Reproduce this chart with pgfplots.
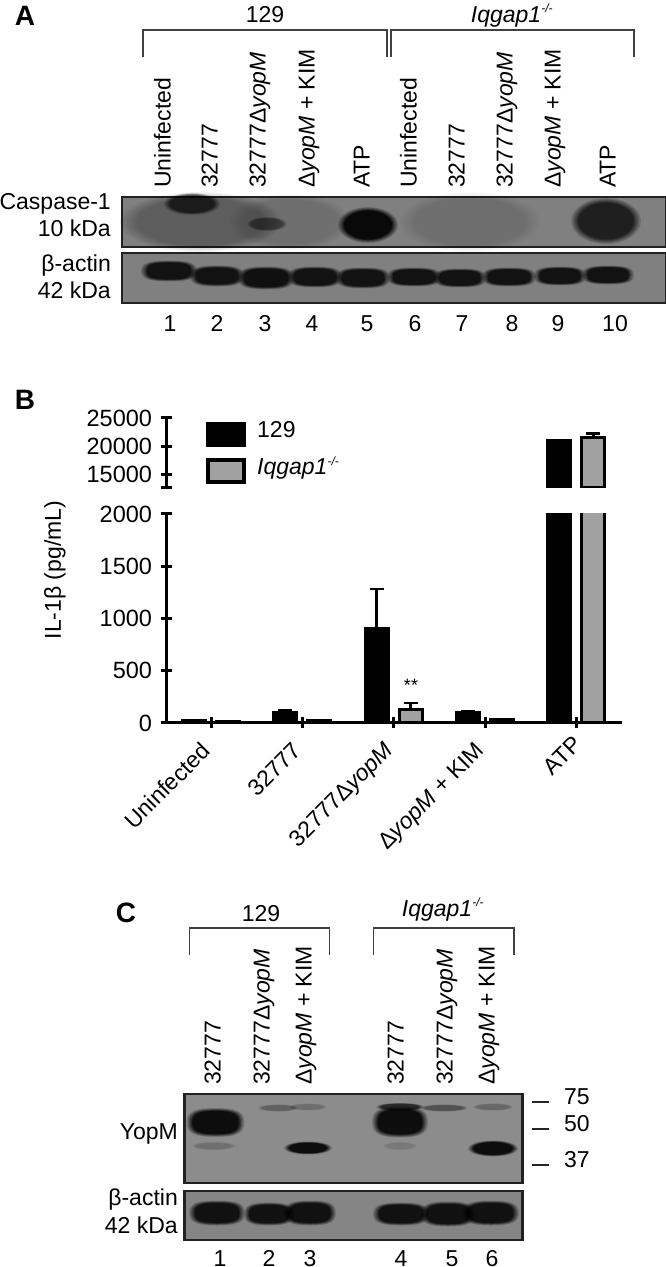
\documentclass[border=0pt]{standalone}
\usepackage{fontspec}
\setmainfont{Liberation Sans}
\usepackage{pgfplots}
\pgfplotsset{compat=1.18}

\newcommand{\fz}{\fontsize{23}{25}\selectfont}
\newcommand{\iq}{\textit{Iqgap1}\textsuperscript{\fontsize{12}{12}\selectfont\textit{-/-}}}
\newcommand{\dy}{Δ\textit{yopM}}

\definecolor{framec}{gray}{0.13}
\definecolor{grayfill}{gray}{0.63}

\pgfdeclareplotmark{band}{\pgfpathcircle{\pgfpointorigin}{1pt}\pgfusepathqfill}
% squarer band, for the actin lanes and the large YopM bands
\pgfdeclareplotmark{bandr}{%
	\pgfpathmoveto{\pgfpoint{1pt}{0pt}}%
	\pgfpathcurveto{\pgfpoint{1pt}{0.75pt}}{\pgfpoint{0.75pt}{1pt}}{\pgfpoint{0pt}{1pt}}%
	\pgfpathcurveto{\pgfpoint{-0.75pt}{1pt}}{\pgfpoint{-1pt}{0.75pt}}{\pgfpoint{-1pt}{0pt}}%
	\pgfpathcurveto{\pgfpoint{-1pt}{-0.75pt}}{\pgfpoint{-0.75pt}{-1pt}}{\pgfpoint{0pt}{-1pt}}%
	\pgfpathcurveto{\pgfpoint{0.75pt}{-1pt}}{\pgfpoint{1pt}{-0.75pt}}{\pgfpoint{1pt}{0pt}}%
	\pgfpathclose\pgfusepathqfill}
\def\bandmark{band}

% one ring of a soft edged band: x y hw hh total-opacity k-1 k scale
\newcommand{\bandstep}[8]{%
	\pgfmathsetmacro\cA{#5*#6/6}\pgfmathsetmacro\cB{#5*#7/6}%
	\pgfmathsetmacro\oo{1-(1-\cB)/(1-\cA)}%
	\pgfmathsetmacro\xs{#3*#8}\pgfmathsetmacro\ys{#4*#8}%
	\edef\tmp{\noexpand\addplot[only marks, mark=\bandmark, mark options={xscale=\xs, yscale=\ys, fill=black, fill opacity=\oo}] coordinates {(#1,#2)};}\tmp}
% x y halfwidth halfheight opacity
\newcommand{\band}[5]{%
	\bandstep{#1}{#2}{#3}{#4}{#5}{0}{1}{1.00}%
	\bandstep{#1}{#2}{#3}{#4}{#5}{1}{2}{0.96}%
	\bandstep{#1}{#2}{#3}{#4}{#5}{2}{3}{0.92}%
	\bandstep{#1}{#2}{#3}{#4}{#5}{3}{4}{0.88}%
	\bandstep{#1}{#2}{#3}{#4}{#5}{4}{5}{0.84}%
	\bandstep{#1}{#2}{#3}{#4}{#5}{5}{6}{0.80}}
\newcommand{\blotfill}[5]{\addplot[draw=none, fill=#5] coordinates {(#1,#2) (#3,#2) (#3,#4) (#1,#4)} --cycle;}
\newcommand{\blotframe}[4]{\addplot[draw=framec, line width=2.6pt] coordinates {(#1,#2) (#3,#2) (#3,#4) (#1,#4)} --cycle;}
\newcommand{\bracket}[4]{\addplot[draw=black!75, line width=1.3pt] coordinates {(#1,#4) (#1,#3) (#2,#3) (#2,#4)};}
\newcommand{\vlab}[3]{\node[rotate=90, anchor=mid west, inner sep=0pt, font=\fz] at (#1,#2) {#3};}
\newcommand{\rlab}[3]{\node[anchor=mid east, inner sep=0pt, font=\fz] at (#1,#2) {#3};}
% lane number: y is the baseline
\newcommand{\lane}[3]{\node[anchor=base, inner sep=0pt, font=\fz] at (#1,#2) {#3};}
\newcommand{\panel}[3]{\node[anchor=center, inner sep=0pt, font=\fontsize{28}{30}\selectfont\bfseries] at (#1,#2) {#3};}

\begin{document}
\begin{tikzpicture}[x=1pt,y=1pt]
\path[use as bounding box] (0,0) rectangle (666pt,1267pt);

% page layer: coordinates are image pixels, y running down
\begin{axis}[
	at={(0pt,0pt)}, anchor=south west,
	scale only axis, width=666pt, height=1267pt,
	xmin=0, xmax=666, ymin=0, ymax=1267, y dir=reverse,
	hide axis, clip=false,
	]
	% panel A
	\panel{25}{16}{A}
	\lane{265}{22}{129}
	\lane{512}{22}{\iq}
	\bracket{143}{387}{30}{57}
	\bracket{391}{634}{30}{57}
	\vlab{168}{188}{Uninfected}
	\vlab{215}{188}{32777}
	\vlab{263}{188}{32777\dy}
	\vlab{312}{188}{\dy{} + KIM}
	\vlab{367}{188}{ATP}
	\vlab{414}{188}{Uninfected}
	\vlab{462}{188}{32777}
	\vlab{510}{188}{32777\dy}
	\vlab{558}{188}{\dy{} + KIM}
	\vlab{613}{188}{ATP}
	\rlab{111}{207}{Caspase-1}
	\rlab{111}{234}{10 kDa}
	\rlab{111}{269}{β-actin}
	\rlab{111}{296}{42 kDa}

	\blotfill{122}{197}{666}{247}{black!50}
	\band{200}{222}{80}{30}{0.25}
	\band{290}{222}{60}{28}{0.12}
	\band{470}{222}{70}{30}{0.12}
	\band{192}{204}{28}{11}{0.7}
	\band{267}{224}{20}{7}{0.45}
	\band{368}{225}{30}{18}{0.92}
	\band{606}{221}{35}{23}{0.75}
	\blotframe{122}{197}{666}{247}

	\blotfill{122}{253}{666}{303}{black!50}
	\def\bandmark{bandr}
	\band{169}{271}{28}{10.5}{0.85}
	\band{217}{276}{27}{10.5}{0.85}
	\band{266}{278}{28}{11.5}{0.87}
	\band{315}{277}{27}{10.5}{0.85}
	\band{363}{278}{27}{10.5}{0.85}
	\band{414}{277}{27}{9.5}{0.85}
	\band{460}{278}{26}{9.5}{0.85}
	\band{509}{277}{27}{9.5}{0.85}
	\band{560}{276}{26}{9.5}{0.85}
	\band{608}{275}{26}{9.5}{0.85}
	\def\bandmark{band}
	\blotframe{122}{253}{666}{303}

	\lane{170}{331}{1}
	\lane{217}{331}{2}
	\lane{265}{331}{3}
	\lane{312}{331}{4}
	\lane{367}{331}{5}
	\lane{415}{331}{6}
	\lane{462}{331}{7}
	\lane{512}{331}{8}
	\lane{558}{331}{9}
	\lane{615}{331}{10}

	% panel B, legend and labels
	\panel{25}{400}{B}
	\blotfill{206}{422}{246}{447}{black}
	\addplot[draw=black, line width=3.5pt, fill=grayfill] coordinates {(208,460) (244,460) (244,482) (208,482)} --cycle;
	\node[anchor=mid west, inner sep=0pt, font=\fz] at (257,435) {129};
	\node[anchor=mid west, inner sep=0pt, font=\fz] at (257,472) {\iq};
	\node[rotate=90, anchor=center, inner sep=0pt, font=\fz] at (55,570) {IL-1β (pg/mL)};
	\node[anchor=center, inner sep=0pt, font=\fontsize{18}{20}\selectfont] at (411,685) {**};

	% panel C
	\panel{126}{913}{C}
	\lane{261}{921}{129}
	\lane{443}{916}{\iq}
	\bracket{189.5}{329.5}{928}{955}
	\bracket{373.5}{514}{928}{955}
	\vlab{218}{1085}{32777}
	\vlab{267}{1085}{32777\dy}
	\vlab{309}{1085}{\dy{} + KIM}
	\vlab{401}{1085}{32777}
	\vlab{450}{1085}{32777\dy}
	\vlab{492}{1085}{\dy{} + KIM}
	\rlab{178}{1137}{YopM}
	\rlab{178}{1203}{β-actin}
	\rlab{178}{1231}{42 kDa}

	\blotfill{184.5}{1094}{522.5}{1183}{black!45}
	\band{278}{1108}{20}{3.5}{0.3}
	\band{308}{1107}{19}{3.5}{0.2}
	\band{444}{1108}{24}{3.5}{0.4}
	\band{493}{1107}{20}{3.5}{0.25}
	\band{400}{1107}{24}{4}{0.7}
	\band{214}{1146}{22}{4}{0.18}
	\band{400}{1146}{17}{4}{0.12}
	\def\bandmark{bandr}
	\band{215.5}{1122.5}{29}{14.5}{0.9}
	\band{400}{1122}{28}{15.5}{0.9}
	\def\bandmark{band}
	\band{308}{1148}{24}{6.5}{0.9}
	\band{493}{1148.5}{25}{8}{0.9}
	\blotframe{184.5}{1094}{522.5}{1183}

	\blotfill{184.5}{1191}{522.5}{1240}{black!48}
	\def\bandmark{bandr}
	\band{217}{1213}{28}{12.5}{0.87}
	\band{269}{1214}{25}{11.5}{0.87}
	\band{310}{1213}{26}{12.5}{0.87}
	\band{401}{1214}{28}{11.5}{0.87}
	\band{448}{1214}{27}{12.5}{0.87}
	\band{491}{1213}{28}{12.5}{0.87}
	\def\bandmark{band}
	\blotframe{184.5}{1191}{522.5}{1240}

	\lane{220}{1266}{1}
	\lane{269}{1266}{2}
	\lane{310}{1266}{3}
	\lane{401}{1266}{4}
	\lane{452}{1266}{5}
	\lane{492}{1266}{6}

	\addplot[draw=black!85, line width=1.3pt] coordinates {(532,1102) (549,1102)};
	\addplot[draw=black!85, line width=1.3pt] coordinates {(532,1129) (549,1129)};
	\addplot[draw=black!85, line width=1.3pt] coordinates {(532,1165) (549,1165)};
	\node[anchor=mid west, inner sep=0pt, font=\fz] at (564,1102) {75};
	\node[anchor=mid west, inner sep=0pt, font=\fz] at (564,1129) {50};
	\node[anchor=mid west, inner sep=0pt, font=\fz] at (564,1165) {37};
\end{axis}

\pgfplotsset{
	barpart/.style={
		scale only axis, width=456pt,
		xmin=-0.493, xmax=4.5,
		tick style={black, line width=3pt},
		major tick length=11pt,
		tick align=outside,
		ybar, bar width=23pt,
		y tick label style={font=\fontsize{23.5}{25}\selectfont, xshift=-5pt},
		/pgf/number format/.cd, 1000 sep={}, assume math mode=true,
		/pgfplots/.cd,
		scaled y ticks=false,
	},
	noarrows/.style={
		axis line style={-, line width=3pt, black},
		every outer x axis line/.append style={-},
		every outer y axis line/.append style={-},
		every inner x axis line/.append style={-},
		every inner y axis line/.append style={-},
	},
	bar129/.style={draw=black, fill=black, line width=3pt, bar shift=-17pt,
		error bars/.cd, y dir=plus, y explicit,
		error bar style={black, line width=2.6pt},
		error mark options={black, rotate=90, mark size=7pt, line width=2.6pt}},
	barko/.style={draw=black, fill=grayfill, line width=3pt, bar shift=17pt,
		error bars/.cd, y dir=plus, y explicit,
		error bar style={black, line width=2.6pt},
		error mark options={black, rotate=90, mark size=7pt, line width=2.6pt}},
}

% lower segment of the broken axis
\begin{axis}[
	barpart,
	at={(166pt,544pt)}, anchor=south west,
	height=209pt,
	ymin=0, ymax=2000,
	axis x line=bottom, axis y line=left, noarrows,
	ytick={0,500,1000,1500,2000},
	xtick={0,1,2,3,4},
	xticklabels={Uninfected, 32777, 32777\dy, \dy{} + KIM, ATP\kern-9pt},
	x tick label style={rotate=45, anchor=north east, font=\fontsize{23}{25}\selectfont, xshift=-13pt, yshift=2.6pt},
	]
	\addplot[bar129] coordinates {(0,25) +- (0,3) (1,100) +- (0,22) (2,905) +- (0,378) (3,96) +- (0,18) (4,21000) +- (0,0)};
	\addplot[barko] coordinates {(0,18) +- (0,3) (1,24) +- (0,3) (2,128) +- (0,64) (3,30) +- (0,3) (4,21500) +- (0,0)};
\end{axis}

% upper segment
\begin{axis}[
	barpart,
	at={(166pt,779pt)}, anchor=south west,
	height=70pt,
	ymin=12700, ymax=25000,
	axis x line=none, axis y line=left, noarrows,
	ytick={12700,15000,20000,25000},
	yticklabels={,15000,20000,25000},
	]
	\addplot[bar129] coordinates {(4,21000) +- (0,120)};
	\addplot[barko] coordinates {(4,21500) +- (0,800)};
\end{axis}
\end{tikzpicture}
\end{document}
